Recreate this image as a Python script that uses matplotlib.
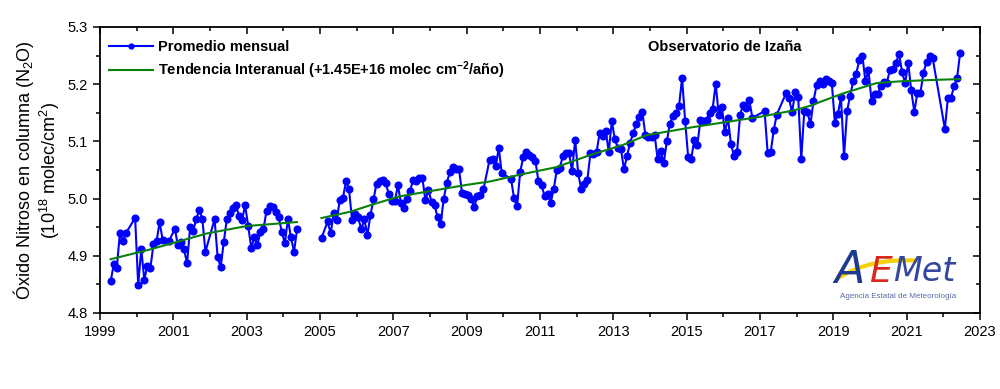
import matplotlib
matplotlib.use("Agg")
import matplotlib.pyplot as plt
from matplotlib.ticker import MultipleLocator
from matplotlib.patches import PathPatch
from matplotlib.path import Path

plt.rcParams['font.family'] = ['Liberation Sans', 'DejaVu Sans']
plt.rcParams['mathtext.default'] = 'regular'

# Promedio mensual (10^18 molec/cm2), primer tramo 1999-2004
fechas_1 = ["1999-04", "1999-05", "1999-06", "1999-07", "1999-08", "1999-09", "1999-12",
            "2000-01", "2000-02", "2000-03", "2000-04", "2000-05", "2000-06", "2000-07",
            "2000-08", "2000-09", "2000-11",
            "2001-01", "2001-02", "2001-03", "2001-04", "2001-05", "2001-06", "2001-07",
            "2001-08", "2001-09", "2001-10", "2001-11",
            "2002-02", "2002-03", "2002-04", "2002-05", "2002-06", "2002-07", "2002-08",
            "2002-09", "2002-10", "2002-11", "2002-12",
            "2003-01", "2003-02", "2003-03", "2003-04", "2003-05", "2003-06", "2003-07",
            "2003-08", "2003-09", "2003-10", "2003-11", "2003-12",
            "2004-01", "2004-02", "2004-03", "2004-04", "2004-05"]
valores_1 = [4.856, 4.885, 4.879, 4.939, 4.926, 4.940, 4.966,
             4.849, 4.912, 4.858, 4.883, 4.879, 4.920, 4.925,
             4.959, 4.928, 4.925,
             4.947, 4.918, 4.924, 4.911, 4.887, 4.951, 4.944,
             4.964, 4.980, 4.964, 4.907,
             4.964, 4.898, 4.880, 4.924, 4.964, 4.975, 4.984,
             4.988, 4.970, 4.963, 4.988,
             4.952, 4.914, 4.932, 4.919, 4.942, 4.946, 4.979,
             4.987, 4.986, 4.977, 4.967, 4.942,
             4.922, 4.964, 4.932, 4.907, 4.947]

# segundo tramo 2005-2022
fechas_2 = ["2005-01", "2005-03", "2005-04", "2005-05", "2005-06", "2005-07", "2005-08",
            "2005-09", "2005-10", "2005-11", "2005-12",
            "2006-01", "2006-02", "2006-03", "2006-04", "2006-05", "2006-06", "2006-07",
            "2006-08", "2006-09", "2006-10", "2006-11", "2006-12",
            "2007-01", "2007-02", "2007-03", "2007-04", "2007-05", "2007-06", "2007-07",
            "2007-08", "2007-09", "2007-10", "2007-11", "2007-12",
            "2008-01", "2008-02", "2008-03", "2008-04", "2008-05", "2008-06", "2008-07",
            "2008-08", "2008-09", "2008-10", "2008-11", "2008-12",
            "2009-01", "2009-02", "2009-03", "2009-04", "2009-05", "2009-06", "2009-08",
            "2009-09", "2009-10", "2009-11", "2009-12",
            "2010-03", "2010-04", "2010-05", "2010-06", "2010-07", "2010-08", "2010-09",
            "2010-10", "2010-11", "2010-12",
            "2011-01", "2011-02", "2011-03", "2011-04", "2011-05", "2011-06", "2011-07",
            "2011-08", "2011-09", "2011-10", "2011-11", "2011-12",
            "2012-01", "2012-02", "2012-03", "2012-04", "2012-05", "2012-06", "2012-07",
            "2012-08", "2012-09", "2012-10", "2012-11", "2012-12",
            "2013-01", "2013-02", "2013-03", "2013-04", "2013-05", "2013-06", "2013-07",
            "2013-08", "2013-09", "2013-10", "2013-11", "2013-12",
            "2014-01", "2014-02", "2014-03", "2014-04", "2014-05", "2014-06", "2014-07",
            "2014-08", "2014-09", "2014-10", "2014-11", "2014-12",
            "2015-01", "2015-02", "2015-03", "2015-04", "2015-05", "2015-06", "2015-07",
            "2015-08", "2015-09", "2015-10", "2015-11", "2015-12",
            "2016-01", "2016-02", "2016-03", "2016-04", "2016-05", "2016-06", "2016-07",
            "2016-08", "2016-09", "2016-10",
            "2017-02", "2017-03", "2017-04", "2017-05", "2017-06", "2017-09", "2017-10",
            "2017-11", "2017-12",
            "2018-01", "2018-02", "2018-03", "2018-04", "2018-05", "2018-06", "2018-07",
            "2018-08", "2018-09", "2018-10", "2018-11", "2018-12",
            "2019-01", "2019-02", "2019-03", "2019-04", "2019-05", "2019-06", "2019-07",
            "2019-08", "2019-09", "2019-10", "2019-11", "2019-12",
            "2020-01", "2020-02", "2020-03", "2020-04", "2020-05", "2020-06", "2020-07",
            "2020-08", "2020-09", "2020-10", "2020-11", "2020-12",
            "2021-01", "2021-02", "2021-03", "2021-04", "2021-05", "2021-06", "2021-07",
            "2021-08", "2021-09",
            "2022-01", "2022-02", "2022-03", "2022-04", "2022-05", "2022-06"]
valores_2 = [4.931, 4.960, 4.939, 4.975, 4.963, 4.998, 5.001,
             5.030, 5.016, 4.962, 4.973,
             4.967, 4.946, 4.964, 4.936, 4.971, 4.999, 5.026,
             5.030, 5.033, 5.027, 5.008, 4.996,
             4.996, 5.023, 4.992, 4.984, 4.999, 5.014, 5.033,
             5.030, 5.036, 5.036, 4.997, 5.015,
             4.994, 4.988, 4.967, 4.956, 5.000, 5.028, 5.046,
             5.055, 5.052, 5.051, 5.009, 5.008,
             5.006, 5.000, 4.986, 5.004, 5.006, 5.016, 5.068,
             5.069, 5.057, 5.088, 5.044,
             5.035, 5.001, 4.987, 5.046, 5.072, 5.082, 5.077,
             5.072, 5.066, 5.030,
             5.023, 5.005, 5.008, 4.993, 5.017, 5.050, 5.054,
             5.075, 5.079, 5.079, 5.048, 5.103,
             5.044, 5.016, 5.026, 5.033, 5.079, 5.078, 5.081,
             5.114, 5.110, 5.119, 5.082, 5.135,
             5.104, 5.088, 5.086, 5.051, 5.075, 5.098, 5.114,
             5.131, 5.142, 5.151, 5.111, 5.108,
             5.108, 5.112, 5.069, 5.083, 5.062, 5.100, 5.131,
             5.144, 5.149, 5.162, 5.211, 5.136,
             5.072, 5.070, 5.103, 5.094, 5.137, 5.135, 5.137,
             5.150, 5.157, 5.201, 5.146, 5.161,
             5.116, 5.141, 5.095, 5.075, 5.082, 5.147, 5.164,
             5.158, 5.172, 5.141,
             5.153, 5.080, 5.081, 5.120, 5.147, 5.184, 5.175,
             5.151, 5.186,
             5.177, 5.069, 5.154, 5.152, 5.130, 5.170, 5.198,
             5.205, 5.200, 5.209, 5.205, 5.202,
             5.133, 5.148, 5.177, 5.074, 5.153, 5.180, 5.205,
             5.218, 5.243, 5.250, 5.205, 5.224,
             5.171, 5.183, 5.182, 5.196, 5.203, 5.202, 5.225,
             5.226, 5.237, 5.253, 5.221, 5.202,
             5.237, 5.189, 5.152, 5.184, 5.185, 5.220, 5.239,
             5.250, 5.246,
             5.122, 5.176, 5.176, 5.196, 5.211, 5.255]

# Tendencia interanual
tend_anios_1 = [1999.29, 2000.36, 2001.91, 2003.00, 2004.37]
tend_valores_1 = [4.894, 4.911, 4.939, 4.952, 4.959]
tend_anios_2 = [2005.04, 2005.82, 2006.45, 2007.18, 2008.09, 2009.00, 2009.64, 2010.54,
                2011.45, 2012.36, 2013.27, 2013.91, 2014.55, 2015.18, 2016.09, 2017.00,
                2017.91, 2018.36, 2018.64, 2019.27, 2020.18, 2020.82, 2021.55, 2022.45]
tend_valores_2 = [4.966, 4.977, 4.990, 5.004, 5.014, 5.024, 5.030, 5.043,
                  5.055, 5.076, 5.094, 5.111, 5.118, 5.125, 5.134, 5.143,
                  5.154, 5.162, 5.169, 5.184, 5.202, 5.205, 5.207, 5.209]

anios_ticks = list(range(1999, 2024, 2))


def a_decimal(fechas):
    """ 'AAAA-MM' -> año decimal (centro del mes) """
    res = []
    for f in fechas:
        a, m = f.split("-")
        res.append(int(a) + (int(m) - 0.5) / 12)
    return res


fig = plt.figure(figsize=(10, 3.89), dpi=100)
ax = fig.add_axes([0.100, 0.1954, 0.880, 0.7352])

azul = '#0000ff'
verde = '#0a820a'

ax.plot(a_decimal(fechas_1), valores_1, color=azul, lw=1.5, marker='o', ms=4.8,
        label='Promedio mensual')
ax.plot(a_decimal(fechas_2), valores_2, color=azul, lw=1.5, marker='o', ms=4.8)
ax.plot(tend_anios_1, tend_valores_1, color=verde, lw=1.5,
        label='Tendencia Interanual (+1.45E+16 molec cm$^{-2}$/año)')
ax.plot(tend_anios_2, tend_valores_2, color=verde, lw=1.5)

ax.set_xlim(1999, 2023)
ax.set_ylim(4.8, 5.3)
ax.set_xticks(anios_ticks)
ax.set_yticks([4.8, 4.9, 5.0, 5.1, 5.2, 5.3])
ax.yaxis.set_major_formatter(plt.FormatStrFormatter('%.1f'))
ax.yaxis.set_minor_locator(MultipleLocator(0.05))
ax.xaxis.set_minor_locator(MultipleLocator(1))

for s in ax.spines.values():
    s.set_linewidth(1.3)
ax.tick_params(which='both', top=True, right=True, labelsize=10.5, width=1.1)
ax.tick_params(which='major', length=5)
ax.tick_params(which='minor', length=3)
# izquierda y abajo hacia fuera, arriba y derecha hacia dentro
ax.xaxis.set_tick_params(which='both', direction='out')
ax.yaxis.set_tick_params(which='both', direction='out')
for t in ax.xaxis.get_major_ticks() + ax.xaxis.get_minor_ticks():
    t.tick2line.set_marker(3)
for t in ax.yaxis.get_major_ticks() + ax.yaxis.get_minor_ticks():
    t.tick2line.set_marker(0)

ax.set_ylabel("Óxido Nitroso en columna (N$_2$O)\n(10$^{18}$ molec/cm$^2$)",
              fontsize=13, labelpad=4, linespacing=1.1)

leg = ax.legend(loc='upper left', frameon=False, fontsize=10.5, handlelength=3.0,
                borderaxespad=0.2, labelspacing=0.35, handletextpad=0.4,
                bbox_to_anchor=(0.0, 0.985))
for txt in leg.get_texts():
    txt.set_fontweight('bold')
leg.legend_handles[0].set_markersize(3.5)

ax.text(0.71, 0.93, "Observatorio de Izaña", transform=ax.transAxes,
        fontsize=10.5, fontweight='bold', ha='center', va='center')

# logo AEMET (aproximado con texto)
fig.text(0.834, 0.272, "A", fontsize=32, color='#1f3a93', style='italic',
         family='DejaVu Sans', fontweight='light')
fig.text(0.869, 0.275, "E", fontsize=26, color='#d9261c', style='italic',
         family='DejaVu Sans')
fig.text(0.893, 0.277, "Met", fontsize=24, color='#34479e', style='italic',
         family='DejaVu Sans')
swoosh = Path([(0.838, 0.285), (0.86, 0.32), (0.885, 0.335), (0.918, 0.33)],
              [Path.MOVETO, Path.CURVE4, Path.CURVE4, Path.CURVE4])
fig.add_artist(PathPatch(swoosh, transform=fig.transFigure, fill=False,
                         edgecolor='#f5d10a', lw=3))
fig.text(0.898, 0.238, "Agencia Estatal de Meteorología", fontsize=5.8,
         color='#5a6aa8', ha='center', va='center')

fig.savefig("out.png", dpi=100)
